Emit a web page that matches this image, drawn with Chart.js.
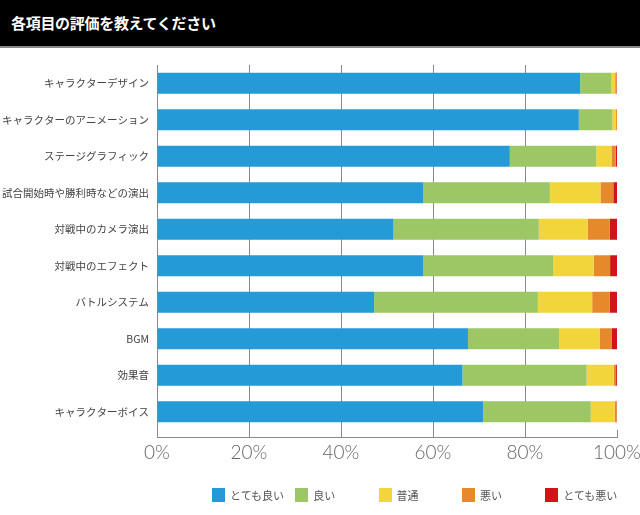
<!DOCTYPE html>
<html>
<head>
<meta charset="utf-8">
<script src="https://cdn.jsdelivr.net/npm/chart.js@4"></script>
<style>
  html, body { margin: 0; padding: 0; background: #fff; }
  #wrap { position: relative; width: 640px; height: 515px; overflow: hidden; }
  #titlebar { position: absolute; left: 0; top: 0; width: 640px; height: 48px; background: #000;
    border-bottom: 2px solid #888; box-sizing: border-box; }
  #titlebar span { position: absolute; left: 11px; top: 12px; color: #fff; font: bold 15px "Noto Sans CJK JP", sans-serif; letter-spacing: -0.3px; }
  #chart { position: absolute; left: 0; top: 0; }
  #legend { position: absolute; left: 0; top: 488px; width: 640px; height: 16px; }
  .item { position: absolute; top: 0; font: 11px "Noto Sans CJK JP", sans-serif; color: #555; white-space: nowrap; line-height: 14px; }
  .item i { display: inline-block; width: 13px; height: 14px; vertical-align: top; margin-right: 5px; }
</style>
</head>
<body>
<div id="wrap">
  <canvas id="chart" width="640" height="515"></canvas>
  <div id="titlebar"><span>各項目の評価を教えてください</span></div>
  <div id="legend"></div>
</div>
<script>
var categories = ['キャラクターデザイン', 'キャラクターのアニメーション', 'ステージグラフィック',
  '試合開始時や勝利時などの演出', '対戦中のカメラ演出', '対戦中のエフェクト', 'バトルシステム',
  'BGM', '効果音', 'キャラクターボイス'];
var seriesNames = ['とても良い', '良い', '普通', '悪い', 'とても悪い'];
var seriesColors = ['#249bd6', '#9dc665', '#f2d43b', '#e5892b', '#d0141a'];
var veryGood = [92.0, 91.7, 76.7, 57.9, 51.4, 57.9, 47.2, 67.6, 66.4, 70.9];
var good     = [6.8, 7.3, 18.8, 27.5, 31.6, 28.2, 35.6, 19.8, 27.0, 23.4];
var neutral  = [0.8, 0.8, 3.3, 11.0, 10.6, 8.8, 11.8, 8.8, 5.9, 5.2];
var bad      = [0.3, 0.2, 0.9, 2.8, 4.8, 3.6, 3.8, 2.6, 0.5, 0.4];
var veryBad  = [0.1, 0.0, 0.3, 0.8, 1.6, 1.5, 1.6, 1.2, 0.2, 0.1];
var xTicks = [0, 20, 40, 60, 80, 100];

var values = [veryGood, good, neutral, bad, veryBad];
var datasets = values.map(function(v, i){
  return {label: seriesNames[i], data: v, backgroundColor: seriesColors[i],
    borderWidth: 0, categoryPercentage: 1, barPercentage: 0.575};
});

// axis base line sits at the bottom of the tick marks
var baseLine = {
  id: 'baseLine',
  afterDraw: function(chart){
    var a = chart.chartArea, c = chart.ctx, y = a.bottom + 7.5;
    c.save();
    c.strokeStyle = '#888';
    c.lineWidth = 1;
    c.beginPath(); c.moveTo(a.left, y); c.lineTo(a.right, y); c.stroke();
    c.restore();
  }
};

new Chart(document.getElementById('chart').getContext('2d'), {
  type: 'bar',
  data: {labels: categories, datasets: datasets},
  plugins: [baseLine],
  options: {
    indexAxis: 'y',
    responsive: false,
    animation: false,
    layout: {padding: {top: 65, right: 23, left: 0, bottom: 0}},
    plugins: {legend: {display: false}, tooltip: {enabled: false}, title: {display: false}},
    scales: {
      x: {
        stacked: true, min: 0, max: 100,
        afterFit: function(s){ s.height = 85; s.paddingLeft = 0; s.paddingRight = 0; },
        afterBuildTicks: function(s){ s.ticks = xTicks.map(function(v){ return {value: v}; }); },
        grid: {
          color: function(ctx){ return ctx.tick && ctx.tick.value === 100 ? 'rgba(0,0,0,0)' : '#8a8a8a'; },
          tickColor: '#8a8a8a', tickLength: 8, lineWidth: 1
        },
        border: {display: false},
        ticks: {
          padding: 3, color: '#666',
          font: {family: 'Lato, "Noto Sans", sans-serif', size: 19, weight: 300},
          callback: function(v){ return v + '%'; }
        }
      },
      y: {
        stacked: true,
        afterFit: function(s){ s.width = 157; },
        grid: {display: false, drawTicks: false},
        border: {display: true, color: '#8a8a8a', width: 1},
        ticks: {padding: 8, color: '#444', font: {family: '"Noto Sans CJK JP", sans-serif', size: 10.5}}
      }
    }
  }
});

var legend = document.getElementById('legend');
seriesNames.forEach(function(name, i){
  var d = document.createElement('div');
  d.className = 'item';
  d.style.left = (212 + i * 83.3) + 'px';
  d.innerHTML = '<i style="background:' + seriesColors[i] + '"></i>' + name;
  legend.appendChild(d);
});
</script>
</body>
</html>
